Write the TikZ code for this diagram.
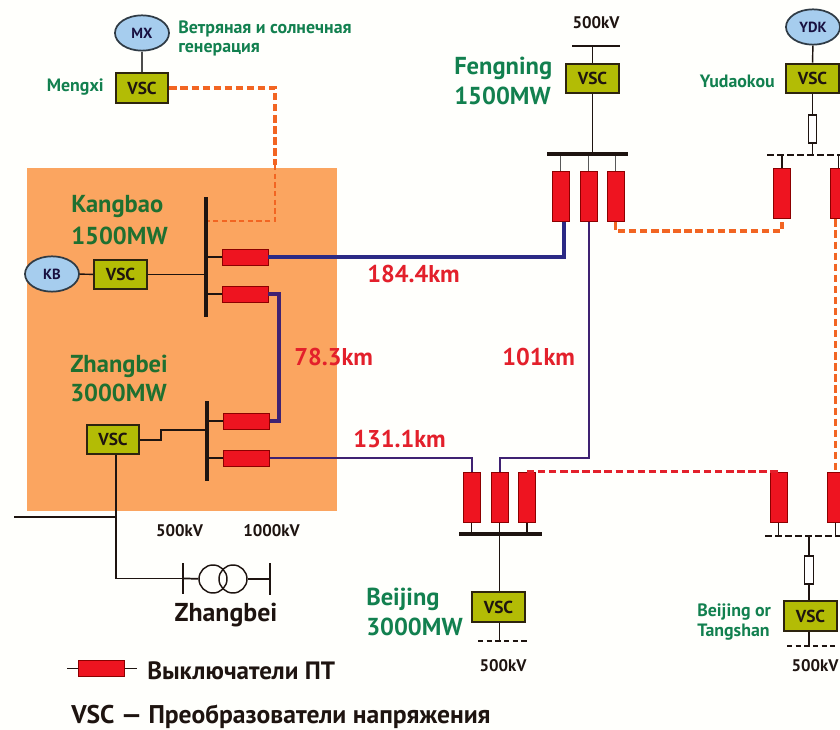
\documentclass[tikz,border=0pt]{standalone}
\usepackage{fontspec}
\setmainfont{PT Sans}
\usetikzlibrary{shapes.geometric}
\definecolor{grn}{HTML}{12804F}
\definecolor{dgrn}{HTML}{1F7030}
\definecolor{rd}{HTML}{E3202B}
\definecolor{org}{HTML}{F26522}
\definecolor{bluel}{HTML}{2B2A85}
\definecolor{purp}{HTML}{3F2272}
\definecolor{blk}{HTML}{1E1410}
\definecolor{vscfill}{HTML}{B3BC05}
\definecolor{gen fill}{HTML}{A6CDEE}
\definecolor{gen line}{HTML}{2F3B45}
\definecolor{brk}{HTML}{EE1420}
\definecolor{zone}{HTML}{FBA560}
\tikzset{
  vsc/.style={draw=blk!85!olive,fill=vscfill,line width=1.6pt,minimum width=39.5pt,minimum height=22.2pt,inner sep=0pt,font=\bfseries\fontsize{13}{14}\selectfont,text=blk},
  gen/.style={ellipse,draw=gen line,fill=gen fill,line width=1.3pt,minimum width=40.5pt,minimum height=26.5pt,inner sep=0pt,font=\bfseries\fontsize{11}{12}\selectfont,text=blk!80!blue},
  hbrk/.style={draw=red!55!black,fill=brk,line width=.7pt,minimum width=34.5pt,minimum height=12pt,inner sep=0pt},
  vbrk/.style={draw=red!55!black,fill=brk,line width=.7pt,minimum width=12.7pt,minimum height=38.2pt,inner sep=0pt},
  res/.style={draw=blk,fill=white,line width=.9pt,minimum width=6.3pt,minimum height=21pt,inner sep=0pt},
  vbus/.style={fill=blk,minimum width=3pt,inner sep=0pt},
  hbus/.style={fill=blk,minimum height=3pt,inner sep=0pt},
  wire/.style={blk,line width=1.3pt},
  thinwire/.style={blk,line width=1.1pt},
  mainline/.style={bluel,line width=2.3pt},
  pline/.style={purp,line width=1.5pt},
  odash/.style={org,line width=2.3pt,dash pattern=on 5.5pt off 2.8pt},
  odashthin/.style={org,line width=1.3pt,dash pattern=on 4pt off 2.5pt},
  rdash/.style={rd,line width=2.3pt,dash pattern=on 5.5pt off 2.8pt},
  kdash/.style={blk,line width=1.9pt,dash pattern=on 5pt off 2.5pt},
  kdashthin/.style={blk,line width=1.2pt,dash pattern=on 4pt off 2.5pt},
  lbl/.style={inner sep=0pt,anchor=west,font=\bfseries},
  big/.style={lbl,font=\bfseries\fontsize{18.4}{20}\selectfont,text=grn},
  bigk/.style={lbl,font=\bfseries\fontsize{18.4}{20}\selectfont,text=dgrn},
  small/.style={lbl,font=\bfseries\fontsize{13.4}{15}\selectfont,text=grn},
  km/.style={lbl,font=\bfseries\fontsize{18.2}{20}\selectfont,text=rd},
  kv/.style={inner sep=0pt,font=\bfseries\fontsize{12.6}{14}\selectfont,text=blk},
  legend/.style={lbl,font=\bfseries\fontsize{18.8}{20}\selectfont,text=blk},
}
\begin{document}
\begin{tikzpicture}[x=.75pt,y=-.75pt]
\clip (0,0) rectangle (840,730);
\fill[white!99!yellow] (0,0) rectangle (840,730);
\fill[zone] (27,168) rectangle (337,511);

% Mengxi
\node[gen] (mx) at (142,33) {MX};
\node[vsc] (vmx) at (142,88) {VSC};
\node[small] (t1) at (178,29) {Ветряная и солнечная};
\node[small] (t2) at (178,50) {генерация};
\node[small,anchor=east] (t3) at (104,87) {Mengxi};
\draw[thinwire,gray!60!black,line width=1.3pt] (mx) -- (vmx);

% Kangbao
\node[bigk] (t4) at (71,207) {Kangbao};
\node[bigk] (t5) at (71,236) {1500MW};
\node[gen] (kb) at (52,274) {KB};
\node[vsc] (vkb) at (120.5,274.5) {VSC};
\node[vbus,minimum height=90pt] (kbus) at (206,257) {};
\node[hbrk] (ka) at (245,257) {};
\node[hbrk] (kb2) at (245,294) {};
\coordinate (kdot) at (kbus.east |- 0,221);
\draw[thinwire] (kb) -- (vkb);
\draw[thinwire] (vkb) -- (vkb -| kbus.west);
\draw[thinwire] (ka.west) -- (ka.west -| kbus.east);
\draw[thinwire] (kb2.west) -- (kb2.west -| kbus.east);

% Zhangbei
\node[bigk] (t6) at (70,366) {Zhangbei};
\node[bigk] (t7) at (70,393) {3000MW};
\node[vsc] (vz) at (113,439.5) {VSC};
\node[vbus,minimum height=60pt] (zbus) at (207,441) {};
\node[hbrk] (za) at (246.5,421) {};
\node[hbrk] (zb) at (246.5,458) {};
\coordinate (zj1) at (161,440);
\coordinate (zj2) at (161,430);
\draw[thinwire] (vz.east |- zj1) -- (zj1) -- (zj2) -- (zj2 -| zbus.west);
\draw[thinwire] (za.west) -- (za.west -| zbus.east);
\draw[thinwire] (zb.west) -- (zb.west -| zbus.east);

% Mengxi link
\coordinate (mc) at (275,88);
\coordinate (mm) at (275,165);
\draw[odash] (vmx.east) -- (mc) -- (mm);
\draw[odashthin] (mm) -- (kdot -| mc) -- (kdot);

% Fengning
\node[kv] (t8) at (596,23) {500kV};
\node[hbus,minimum width=36pt,minimum height=1.2pt] (ftop) at (596,46) {};
\node[vsc] (vf) at (592.5,78.5) {VSC};
\node[big] (t9) at (454,68) {Fengning};
\node[big] (t10) at (454,96) {1500MW};
\node[hbus,minimum width=61pt] (fbus) at (587.5,154) {};
\node[vbrk] (fa) at (560.5,196.5) {};
\node[vbrk] (fb) at (588.5,196.5) {};
\node[vbrk] (fc) at (615.5,196.5) {};
\draw[thinwire] (ftop.south -| vf) -- (vf.north);
\draw[wire] (vf.south) -- (vf.south |- fbus.north);
\foreach \b in {fa,fb,fc}{\draw[thinwire,gray!70!black] (\b.north) -- (\b.north |- fbus.south);}

% Yudaokou
\node[gen] (ydk) at (813,27) {YDK};
\node[vsc] (vy) at (812.5,78.5) {VSC};
\node[small,anchor=east] (t11) at (775,81) {Yudaokou};
\node[res] (ry) at (812.5,129) {};
\coordinate (ybl) at (767,155);
\coordinate (ybr) at (840,155);
\node[vbrk] (ya) at (782,193.5) {};
\node[vbrk] (yb) at (838.5,193.5) {};
\draw[thinwire] (ydk) -- (vy);
\draw[thinwire] (vy) -- (ry);
\draw[thinwire] (ry.south) -- (ry.south |- ybl);
\draw[kdash] (ybl) -- (ybr);
\draw[thinwire] (ya.north) -- (ya.north |- ybl);
\draw[thinwire] (yb.north) -- (yb.north |- ybl);

% Beijing
\node[big] (t12) at (366,599) {Beijing};
\node[big] (t13) at (366,627) {3000MW};
\node[vbrk] (ba) at (471.5,497.5) {};
\node[vbrk] (bb) at (499.5,497.5) {};
\node[vbrk] (bc) at (527,497.5) {};
\node[hbus,minimum width=62pt] (bbus) at (500.5,534) {};
\node[vsc] (vb) at (498.5,607) {VSC};
\coordinate (bdl) at (478,641);
\coordinate (bdr) at (527,641);
\node[kv] (t14) at (503,666) {500kV};
\foreach \b in {ba,bb,bc}{\draw[thinwire] (\b.south) -- (\b.south |- bbus.north);}
\draw[wire] (bbus.south -| bb) -- (bb |- vb.north);
\draw[wire] (vb.south -| bb) -- (bb |- bdl);
\draw[kdashthin] (bdl) -- (bdr);

% Beijing or Tangshan
\node[small] (t15) at (697,612) {Beijing or};
\node[small] (t16) at (697,632) {Tangshan};
\node[vbrk] (ta) at (778.5,497.5) {};
\node[vbrk] (tb) at (835.5,497.5) {};
\coordinate (tbl) at (765,536);
\coordinate (tbr) at (840,536);
\node[res] (rt) at (809,570) {};
\node[vsc] (vt) at (810.5,616) {VSC};
\coordinate (tdl) at (787,646);
\coordinate (tdr) at (835,646);
\node[kv] (t17) at (815,666) {500kV};
\draw[kdash] (tbl) -- (tbr);
\draw[thinwire] (ta.south) -- (ta.south |- tbl);
\draw[thinwire] (tb.south) -- (tb.south |- tbl);
\draw[thinwire] (rt.north) -- (rt.north |- tbl);
\draw[thinwire] (rt.south) -- (rt.south |- vt.north);
\draw[thinwire] (rt.south |- vt.south) -- (rt.south |- tdl);
\draw[kdashthin] (tdl) -- (tdr);

% HVDC lines
\coordinate (fax) at (564,0);
\coordinate (c1) at (fax |- ka.east);
\draw[mainline] (ka.east) -- (c1) -- (fax |- fa.south);
\coordinate (c2) at (279,294);
\draw[mainline,purp] (kb2.east) -- (c2) -- (c2 |- za.east) -- (za.east);
\coordinate (c3) at (ba.north |- zb.east);
\draw[pline] (zb.east) -- (c3) -- (ba.north);
\coordinate (c4) at (fb.south |- zb.east);
\draw[pline] (fb.south) -- (c4) -- (bb.north |- zb.east) -- (bb.north);
\coordinate (c5) at (fc.south |- 0,231);
\coordinate (c6) at (ya.south |- 0,231);
\draw[odash] (fc.south) -- (c5) -- (c6) -- (ya.south);
\draw[odash] (tb.north |- yb.south) -- (tb.north);
\draw[rdash] (bc.north) -- (ta.north);

% distance labels
\node[km] (d1) at (367,274) {184.4km};
\node[km] (d2) at (294,357) {78.3km};
\node[km] (d3) at (502,357) {101km};
\node[km] (d4) at (353,439) {131.1km};

% Zhangbei AC
\node[kv] (t18) at (179.5,531) {500kV};
\node[kv] (t19) at (271.5,531) {1000kV};
\node[vbus,minimum width=1.4pt,minimum height=23pt] (zl) at (183,578.5) {};
\node[vbus,minimum width=1.4pt,minimum height=23.5pt] (zr) at (270,579) {};
\node[circle,draw=blk,line width=1.1pt,minimum size=21pt,inner sep=0pt] (tr1) at (213,579) {};
\node[circle,draw=blk,line width=1.1pt,minimum size=21pt,inner sep=0pt] (tr2) at (233,579) {};
\coordinate (j0) at (116,578.5);
\coordinate (st) at (14,517);
\draw[wire] (vz.south -| j0) -- (j0) -- (zl);
\draw[thinwire,line width=.8pt] (st) -- (st -| j0);
\draw[wire,line width=2pt] (st) -- ++(6,0);
\draw[wire] (zl) -- (tr1);
\draw[wire] (tr2) -- (zr);
\node[inner sep=0pt,font=\bfseries\fontsize{19.4}{21}\selectfont,text=blk] (t20) at (226,615) {Zhangbei};

% Legend
\node[hbrk] (lb) at (101.5,668.5) {};
\coordinate (ll) at (67,668.5);
\coordinate (lr) at (137,668.5);
\draw[thinwire] (ll) -- (lb) (lb) -- (lr);
\node[legend] (t21) at (147,671) {Выключатели ПТ};
\node[legend,font=\bfseries\fontsize{19.2}{21}\selectfont] (t22) at (71,717) {VSC — Преобразователи напряжения};
\end{tikzpicture}
\end{document}
